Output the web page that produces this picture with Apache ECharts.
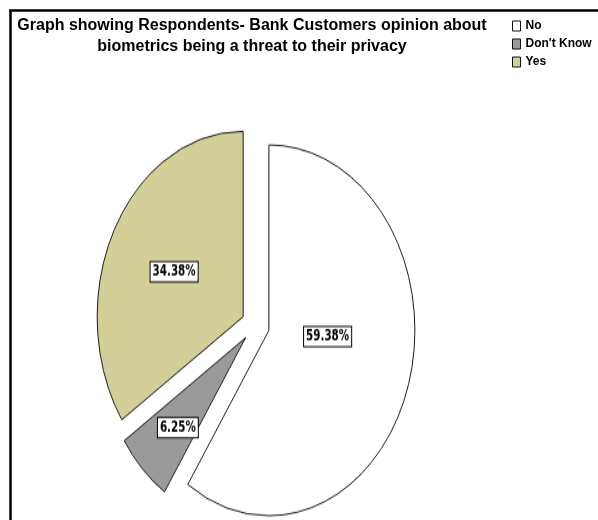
<!DOCTYPE html>
<html>
<head>
<meta charset="utf-8">
<script src="https://cdn.jsdelivr.net/npm/echarts@6/dist/echarts.min.js"></script>
<style>
  html, body { margin: 0; padding: 0; width: 598px; height: 520px; overflow: hidden; background: #fff; }
  #frame { position: absolute; left: 0; top: 0; width: 598px; height: 520px; }
  /* the pie is drawn on its own layer and stretched vertically into an ellipse */
  #pie { position: absolute; left: 0; top: 0; width: 598px; height: 410px;
         transform: scaleY(1.27); transform-origin: 0 0; }
</style>
</head>
<body>
<div id="frame"></div>
<div id="pie"></div>
<script>
// Survey answers and their shares (percent of respondents)
const categories = ['No', "Don't Know", 'Yes'];
const percentages = [59.38, 6.25, 34.38];
const sliceColors = ['#ffffff', '#9a9a9a', '#d3cf99'];
const titleLines = [
  'Graph showing Respondents- Bank Customers opinion about',
  'biometrics being a threat to their privacy'
];
// small shifts of the percentage boxes inside their slices (px)
const labelNudge = [[-14, -17], [-14, 17], [-2, 0.5]];

const FONT = '"Liberation Sans", Arial, sans-serif';
const NARROW = '"Liberation Sans Narrow", "Arial Narrow", "DejaVu Sans Condensed", "Liberation Sans", sans-serif';

const sliceData = categories.map((name, i) => ({
  name: name,
  value: percentages[i],
  selected: true,
  itemStyle: { color: sliceColors[i] }
}));

// ---- frame layer: border, title and legend ----
const frameChart = echarts.init(document.getElementById('frame'), null, { renderer: 'canvas' });
frameChart.setOption({
  animation: false,
  backgroundColor: '#ffffff',
  graphic: [
    { type: 'line', shape: { x1: 9, y1: 10.5, x2: 598, y2: 10.5 },
      style: { stroke: '#000', lineWidth: 2.5 } },
    { type: 'line', shape: { x1: 10.5, y1: 10, x2: 10.5, y2: 520 },
      style: { stroke: '#000', lineWidth: 2.5 } },
    { type: 'text', x: 252, y: 15,
      style: { text: titleLines.join('\n'), fill: '#000', align: 'center', verticalAlign: 'top',
               font: 'bold 16px ' + FONT, lineHeight: 21 } }
  ],
  legend: {
    orient: 'vertical',
    left: 512,
    top: 19,
    padding: 0,
    itemWidth: 8,
    itemHeight: 10,
    itemGap: 4,
    icon: 'rect',
    data: categories,
    selectedMode: false,
    itemStyle: { borderColor: '#111', borderWidth: 1 },
    textStyle: { color: '#000', fontWeight: 'bold', fontSize: 12, fontFamily: FONT, lineHeight: 14 }
  },
  series: [{
    type: 'pie',
    silent: true,
    center: [-300, -300],
    radius: 1,
    label: { show: false },
    data: categories.map((name, i) => ({ name: name, value: percentages[i], itemStyle: { color: sliceColors[i] } }))
  }]
});

// ---- pie layer ----
const pieChart = echarts.init(document.getElementById('pie'), null, { renderer: 'canvas' });
pieChart.setOption({
  animation: false,
  series: [{
    type: 'pie',
    center: [255.5, 256],
    radius: 146,
    startAngle: 90,
    clockwise: true,
    selectedMode: 'multiple',
    selectedOffset: 14,
    emphasis: { disabled: true },
    itemStyle: { borderColor: '#1a1a1a', borderWidth: 1 },
    label: {
      show: true,
      position: 'inside',
      formatter: p => p.value.toFixed(2) + '%',
      color: '#000',
      fontWeight: 'bold',
      fontSize: 11.5,
      fontFamily: NARROW,
      backgroundColor: '#ffffff',
      borderColor: '#000',
      borderWidth: 1,
      padding: [2, 2, 1, 2]
    },
    labelLine: { show: false },
    labelLayout: p => ({ dx: labelNudge[p.dataIndex][0], dy: labelNudge[p.dataIndex][1] }),
    data: sliceData
  }]
});
</script>
</body>
</html>
